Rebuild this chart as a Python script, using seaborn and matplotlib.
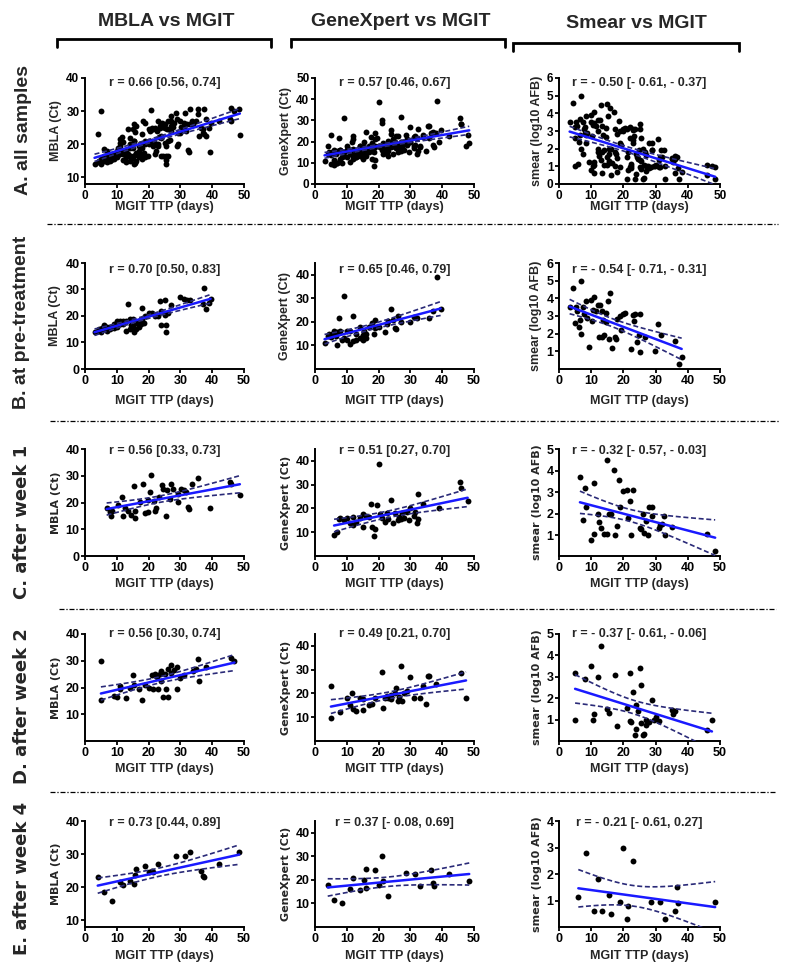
import numpy as np
import matplotlib
matplotlib.use("Agg")
import matplotlib.pyplot as plt
from matplotlib.lines import Line2D
import seaborn as sns

# ---------------- data ----------------
# B. pre-treatment
pre_mbla_x = [3, 4, 4.5, 5, 5.5, 6, 6, 7, 7, 8, 8, 9, 9, 10, 10, 11, 11, 12, 12, 13, 13, 13.5, 14, 14, 14.5,
              15, 15, 15.5, 16, 16, 17, 17, 17.5, 18, 18, 18.5, 19, 20, 21, 22, 23, 23.5, 24, 24, 25, 25,
              25.5, 25.5, 26, 27, 30, 31, 32, 33, 37, 37.5, 38, 39, 39.5]
pre_mbla_y = [14, 14.5, 15, 14, 15.5, 16.5, 15, 16, 14.5, 16, 15, 17, 15.5, 18, 16, 18, 17, 18, 17, 18, 14.5,
              24.5, 19, 15, 16.5, 19, 16, 14, 15, 17.5, 16, 18, 17, 23, 19, 17.5, 20, 21, 21, 20, 20, 25.5,
              16.5, 22, 26, 20.5, 14, 16.5, 21, 24, 27, 26.5, 26, 26, 24.5, 30.5, 22.5, 25, 26.5]
pre_gx_x = [3, 4, 4.5, 5, 5.5, 6, 6.5, 7, 7, 7.5, 8, 8.5, 9, 9, 10, 10, 11, 11, 12, 12, 13, 13, 14, 14, 15,
            15, 15.5, 16, 16, 17, 18, 18.5, 19, 19, 20, 22, 22.5, 23, 24, 24.5, 25, 25.5, 26, 27, 30, 31, 32,
            36, 37, 38.5, 39.5]
pre_gx_y = [11, 14, 15, 13.5, 15, 16, 14, 10, 15.5, 21.5, 16, 12.5, 31, 13, 12.5, 16, 10.5, 16, 22.5, 12,
            12.5, 15, 18, 13, 12.5, 14.5, 16, 13, 15, 18, 19.5, 15, 21, 17.5, 18, 15.5, 19, 20.5, 25.5, 21,
            17.5, 17, 22.5, 20, 20, 22, 21.5, 21.5, 24.5, 39, 25.5]
pre_sm_x = [3.3, 4.4, 5.2, 5.6, 4.9, 6.4, 6.2, 6.7, 6.9, 7.5, 7.7, 8.3, 8.7, 9.2, 9.9, 10.1, 10.8, 10.6, 11.4,
            12.1, 12.7, 12.4, 13.2, 13.5, 13.7, 13.9, 14.6, 14.7, 15.3, 15.4, 15.8, 16.6, 17.3, 17.8, 18.0,
            18.8, 19.4, 19.9, 20.4, 22.5, 23.0, 23.3, 23.5, 24.1, 24.9, 25.3, 25.3, 26.8, 29.8, 30.6, 31.8,
            36.0, 37.3, 38.1]
pre_sm_y = [3.5, 4.6, 3.5, 3.3, 2.6, 2.75, 2.4, 5.0, 2.0, 3.5, 3.1, 3.85, 2.9, 1.25, 3.9, 2.7, 4.05, 3.35,
            3.3, 3.65, 3.6, 1.8, 3.3, 1.8, 2.75, 1.9, 3.15, 2.65, 3.85, 1.7, 4.3, 1.2, 1.8, 1.7, 2.85, 3.0,
            2.2, 3.1, 3.15, 1.15, 3.05, 2.7, 3.1, 1.5, 1.95, 0.95, 3.1, 1.8, 1.0, 2.55, 1.95, 1.6, 0.3, 0.7]

# C. after week 1
w1_mbla_x = [6.8, 7.9, 8.2, 8.6, 10.5, 11.5, 11.8, 12.6, 13.4, 14.6, 15.3, 15.7, 15.7, 17.3, 18.1, 18.9,
             19.7, 19.7, 20.4, 20.9, 21.7, 22.0, 22.3, 23.3, 24.1, 24.4, 25.6, 25.9, 26.7, 27.2, 27.8,
             29.1, 29.4, 30.3, 31.0, 31.9, 32.5, 32.7, 33.8, 35.4, 39.3, 45.6, 45.9, 48.7]
w1_mbla_y = [18.0, 16.4, 15.1, 17.0, 19.0, 22.1, 15.1, 18.0, 17.0, 15.5, 26.1, 14.2, 16.7, 20.2, 27.1, 16.0,
             16.4, 20.8, 24.1, 30.3, 20.6, 17.0, 18.0, 22.1, 26.5, 25.2, 15.1, 24.6, 21.4, 27.1, 25.2,
             23.3, 20.2, 25.2, 24.8, 23.9, 18.3, 17.7, 27.1, 29.0, 17.8, 27.7, 27.1, 22.7]
w1_gx_x = [6, 7, 7.5, 8, 9, 10, 11, 12, 12, 13, 14, 15, 15, 16, 17, 17.5, 18, 18.5, 19, 19.5, 20, 20.5, 21,
           22, 22.5, 23, 24, 24.5, 25, 26, 26.5, 27, 27.5, 28, 29, 29.5, 30, 31, 31.5, 32, 32.5, 32.5, 34,
           39, 45.5, 46, 48]
w1_gx_y = [9, 10, 15.5, 16, 15, 16, 14, 13, 16.5, 14.5, 16, 17.5, 12, 17, 16.5, 22, 12, 8.5, 11.5, 21.5, 38.5,
           17.5, 16, 14.5, 18, 15.5, 23.5, 14, 18, 15, 16.5, 15.5, 18, 16, 18.5, 15, 20, 17, 18.5, 14, 15.5,
           26, 22, 20, 31, 28.5, 23]
w1_sm_x = [6.5, 7.5, 8, 8.5, 10, 11, 11, 12, 12.5, 13, 14, 15, 15, 15.5, 16, 17, 17.5, 18, 18.5, 19, 20, 21,
           21.5, 22, 22.5, 23, 25, 25.5, 26, 26.5, 27, 27.5, 28, 29, 29, 31, 31.5, 32, 32.5, 33, 35, 46, 48.5]
w1_sm_y = [3.7, 1.7, 3.2, 2.3, 0.8, 3.45, 1.05, 2.0, 1.6, 1.35, 1.05, 4.5, 1.05, 2.0, 2.0, 4.05, 1.0, 1.45,
           3.55, 2.3, 3.05, 3.1, 1.8, 2.6, 1.0, 3.1, 1.35, 1.3, 2.0, 1.1, 1.65, 1.0, 2.3, 2.3, 1.9, 1.35,
           1.5, 1.55, 1.9, 1.0, 1.4, 1.05, 0.3]

# D. after week 2
w2_mbla_x = [5, 5, 9, 10, 11, 11, 13, 14, 15, 15.5, 17, 18, 19, 20, 21, 21.5, 22, 22.5, 23, 23.5, 24, 24,
             24.5, 25, 25.5, 26, 26, 27, 27, 28, 29, 29, 30, 31, 34, 35, 35.5, 36, 38, 46, 47]
w2_mbla_y = [30, 15.5, 17, 16.5, 20.5, 19.5, 16, 20, 24.5, 21, 19.5, 15.5, 21, 20, 24.5, 19.5, 25, 24, 19.5,
             25, 26, 22.5, 16.5, 25, 19.5, 27, 16.5, 25.5, 28.5, 26.5, 27.5, 19.5, 23.5, 24.5, 26, 27,
             30.5, 22.5, 27.5, 31, 30]
w2_gx_x = [5, 5, 8, 10, 11, 11.5, 12, 13, 14, 15, 15, 17, 18, 19, 21, 21.5, 22, 22.5, 23, 24, 24, 25, 25.5,
           26, 26.5, 27, 27.5, 28, 29, 30, 31, 33, 34, 35, 35.5, 36, 38, 46, 47.5]
w2_gx_y = [23, 9.5, 12, 18, 15, 20, 13.5, 12.5, 18, 13, 17.5, 15, 15.5, 18, 29, 14, 18, 19, 18, 19.5, 17.5,
           20, 22.5, 17, 18.5, 31.5, 17, 20, 21, 27, 18, 18, 23, 15.5, 27.5, 27.5, 24, 28.5, 18]
w2_sm_x = [5, 5, 8, 10, 10.5, 11, 12, 13, 15, 15.5, 17.5, 18, 21, 22, 22, 22.5, 23, 23.5, 24, 24, 24.5, 25,
           25.5, 25.5, 26, 26.5, 27, 27, 28, 29, 29.5, 30, 31, 35, 35.5, 36, 46, 47.5]
w2_sm_y = [3.2, 1.0, 2.9, 3.5, 1.0, 1.25, 3.0, 4.45, 1.5, 1.3, 3.1, 0.7, 1.55, 3.2, 0.95, 0.9, 2.3, 0.3,
           0.55, 1.7, 1.4, 3.4, 2.6, 0.85, 0.3, 0.35, 0.75, 1.0, 0.9, 1.9, 1.0, 1.1, 0.95, 1.45, 1.25, 1.4,
           0.5, 1.0]

# E. after week 4
w4_mbla_x = [4, 6, 8.5, 11, 12, 14, 15.5, 15.8, 16, 19, 20, 21, 21.5, 23, 28.5, 31.5, 33, 36.5, 37, 37.5,
             42, 48.5]
w4_mbla_y = [23, 18.5, 15.8, 21.5, 20.8, 22, 21, 23.8, 25.5, 26.5, 24.5, 25, 24.5, 27, 29.5, 29.5, 30.5,
             25, 23.5, 23, 27, 30.5]
w4_gx_x = [4, 6, 8.5, 11, 12, 14, 15.5, 16, 16, 19, 20, 21, 21.5, 23, 28.5, 31.5, 33, 36.5, 37, 37.5, 42,
           48.5]
w4_gx_y = [18, 11.5, 10, 16, 21, 15.5, 20, 24.5, 16.5, 24, 18, 30, 19.5, 13, 23, 22.5, 17.5, 24, 18.5, 17.5,
           22.5, 19.5]
w4_sm_x = [6, 8.5, 11, 12, 13.5, 15.5, 16, 19, 20, 21, 21.5, 23, 28.5, 31.5, 33, 36, 36.5, 37, 48.5]
w4_sm_y = [1.15, 2.8, 0.6, 1.8, 0.6, 1.2, 0.5, 0.95, 3.0, 0.3, 0.8, 2.5, 0.95, 0.95, 0.3, 0.6, 1.5, 0.9, 0.95]

# A. all samples = pooled time points
all_mbla_x = pre_mbla_x + w1_mbla_x + w2_mbla_x + w4_mbla_x
all_mbla_y = pre_mbla_y + w1_mbla_y + w2_mbla_y + w4_mbla_y
all_gx_x = pre_gx_x + w1_gx_x + w2_gx_x + w4_gx_x
all_gx_y = pre_gx_y + w1_gx_y + w2_gx_y + w4_gx_y
all_sm_x = pre_sm_x + w1_sm_x + w2_sm_x + w4_sm_x
all_sm_y = pre_sm_y + w1_sm_y + w2_sm_y + w4_sm_y

col_titles = ["MBLA vs MGIT", "GeneXpert vs MGIT", "Smear vs MGIT"]
row_labels = ["A. all samples", "B. at pre-treatment", "C. after week 1", "D. after week 2", "E. after week 4"]
y_labels = ["MBLA (Ct)", "GeneXpert (Ct)", "smear (log10 AFB)"]
x_label = "MGIT TTP (days)"
r_texts = [
    ["r = 0.66 [0.56, 0.74]", "r = 0.57 [0.46, 0.67]", "r = - 0.50 [- 0.61, - 0.37]"],
    ["r = 0.70 [0.50, 0.83]", "r = 0.65 [0.46, 0.79]", "r = - 0.54 [- 0.71, - 0.31]"],
    ["r = 0.56 [0.33, 0.73]", "r = 0.51 [0.27, 0.70]", "r = - 0.32 [- 0.57, - 0.03]"],
    ["r = 0.56 [0.30, 0.74]", "r = 0.49 [0.21, 0.70]", "r = - 0.37 [- 0.61, - 0.06]"],
    ["r = 0.73 [0.44, 0.89]", "r = 0.37 [- 0.08, 0.69]", "r = - 0.21 [- 0.61, 0.27]"],
]
x_ticks = [0, 10, 20, 30, 40, 50]
y_ticks = [
    [[10, 20, 30, 40], [0, 10, 20, 30, 40, 50], [0, 1, 2, 3, 4, 5, 6]],
    [[0, 10, 20, 30, 40], [10, 20, 30, 40], [1, 2, 3, 4, 5, 6]],
    [[0, 10, 20, 30, 40], [10, 20, 30, 40], [1, 2, 3, 4, 5]],
    [[10, 20, 30, 40], [10, 20, 30, 40], [1, 2, 3, 4, 5]],
    [[10, 20, 30, 40], [10, 20, 30, 40], [1, 2, 3, 4]],
]
y_lims = [
    [(8, 40), (0, 50), (0, 6)],
    [(0, 40), (0, 45), (0, 6)],
    [(0, 40), (0, 45), (0.05, 5)],
    [(0, 40), (0, 45), (0, 5)],
    [(8, 40), (0, 45), (0, 4)],
]
panel_data = [
    [(all_mbla_x, all_mbla_y), (all_gx_x, all_gx_y), (all_sm_x, all_sm_y)],
    [(pre_mbla_x, pre_mbla_y), (pre_gx_x, pre_gx_y), (pre_sm_x, pre_sm_y)],
    [(w1_mbla_x, w1_mbla_y), (w1_gx_x, w1_gx_y), (w1_sm_x, w1_sm_y)],
    [(w2_mbla_x, w2_mbla_y), (w2_gx_x, w2_gx_y), (w2_sm_x, w2_sm_y)],
    [(w4_mbla_x, w4_mbla_y), (w4_gx_x, w4_gx_y), (w4_sm_x, w4_sm_y)],
]

# ---------------- style / layout ----------------
sns.set_theme(style="ticks")
plt.rcParams["font.family"] = ["Liberation Sans", "DejaVu Sans"]
WIDE = ["Liberation Sans", "DejaVu Sans"]

W, H = 789, 963
fig = plt.figure(figsize=(W / 100, H / 100), dpi=100)
fig.patch.set_facecolor("white")

def fx(x):
    return x / W

def fy(y):
    return 1 - y / H

cols_px = [(85, 244), (315, 474), (559, 720)]
rows_px = [(78, 184), (263, 369), (449, 556), (634, 741), (821, 927)]
title_y = [0.95, 0.93, 0.98, 1.0, 0.98]
xlabel_off = [23, 32, 28, 28, 29]   # pixels below the x axis (label centre)
tick_fs = [8.5, 9, 9, 9, 9]


def t975(df):
    try:
        from scipy import stats
        return float(stats.t.ppf(0.975, df))
    except Exception:
        z = 1.959964
        return z + (z ** 3 + z) / (4 * df) + (5 * z ** 5 + 16 * z ** 3 + 3 * z) / (96 * df ** 2)


for ri, (top, bot) in enumerate(rows_px):
    hpx = bot - top
    for ci, (lft, rgt) in enumerate(cols_px):
        ax = fig.add_axes([fx(lft), fy(bot), (rgt - lft) / W, hpx / H])
        xs_d, ys_d = panel_data[ri][ci]
        x = np.asarray(xs_d, float)
        y = np.asarray(ys_d, float)
        sns.regplot(x=x, y=y, ax=ax, ci=None, truncate=True,
                    scatter_kws=dict(s=18, color="black", linewidths=0, zorder=3, alpha=1),
                    line_kws=dict(color="#1a1aff", lw=1.8, zorder=4))
        slope, icpt = np.polyfit(x, y, 1)
        n = len(x)
        xx = np.linspace(x.min(), x.max(), 120)
        yhat = icpt + slope * xx
        resid = y - (icpt + slope * x)
        s = np.sqrt(np.sum(resid ** 2) / (n - 2))
        sxx = np.sum((x - x.mean()) ** 2)
        se = s * np.sqrt(1.0 / n + (xx - x.mean()) ** 2 / sxx)
        tv = t975(n - 2)
        for sgn in (1, -1):
            ax.plot(xx, yhat + sgn * tv * se, color="#2a2a78", lw=1.2,
                    ls=(0, (3, 1.6)), zorder=4)
        ax.set_xlim(0, 50)
        ax.set_ylim(*y_lims[ri][ci])
        ax.set_xticks(x_ticks)
        ax.set_yticks(y_ticks[ri][ci])
        ax.set_xticklabels([str(v) for v in x_ticks], fontweight="bold", fontsize=tick_fs[ri])
        ax.set_yticklabels([str(v) for v in y_ticks[ri][ci]], fontweight="bold", fontsize=tick_fs[ri])
        ax.set_xlabel(x_label, fontweight="bold", fontsize=9, va="center")
        ax.xaxis.set_label_coords(0.5, -xlabel_off[ri] / hpx)
        ax.set_ylabel(y_labels[ci], fontweight="bold", family=WIDE if ri < 2 else ["DejaVu Sans"],
                      fontsize=9 if ri < 2 else 8, labelpad=3)
        sns.despine(ax=ax)
        for sp in ("left", "bottom"):
            ax.spines[sp].set_linewidth(1.4)
            ax.spines[sp].set_color("black")
        ax.tick_params(direction="out", length=3, width=1.3, pad=1, colors="black")
        ax.set_facecolor("white")
        ax.text(0.5, title_y[ri], r_texts[ri][ci], transform=ax.transAxes, ha="center",
                va="center", fontweight="bold", fontsize=9, zorder=6)

# column headers and brackets
hdr_x = [166, 401, 636]
hdr_y = [21, 21, 24]
for t, hx, hy in zip(col_titles, hdr_x, hdr_y):
    fig.text(fx(hx), fy(hy), t, ha="center", va="center", fontsize=14, fontweight="bold",
             family=WIDE)
brackets = [(57, 271, 39, 47), (291, 505, 39, 47), (513, 739, 43, 51)]
for (x0, x1, yt, yb) in brackets:
    fig.add_artist(Line2D([fx(x0), fx(x0), fx(x1), fx(x1)], [fy(yb), fy(yt), fy(yt), fy(yb)],
                          transform=fig.transFigure, color="black", lw=2.0,
                          solid_joinstyle="miter"))

# row labels
lab_pos = [(24, 130), (22, 322), (22, 522), (22, 706), (22, 878)]
for i, (lab, (lx, ly)) in enumerate(zip(row_labels, lab_pos)):
    fig.text(fx(lx), fy(ly), lab, rotation=90, ha="center", va="center",
             fontsize=14 if i < 2 else 13, fontweight="bold",
             family=WIDE if i < 2 else ["DejaVu Sans"])

# separators
seps = [(47, 778, 224), (50, 779, 421), (59, 776, 609), (50, 776, 792)]
for (x0, x1, yy) in seps:
    fig.add_artist(Line2D([fx(x0), fx(x1)], [fy(yy), fy(yy)], transform=fig.transFigure,
                          color="black", lw=0.9, ls=(0, (4, 1.5, 1, 1.5))))

fig.savefig("out.png", dpi=100, facecolor="white")
